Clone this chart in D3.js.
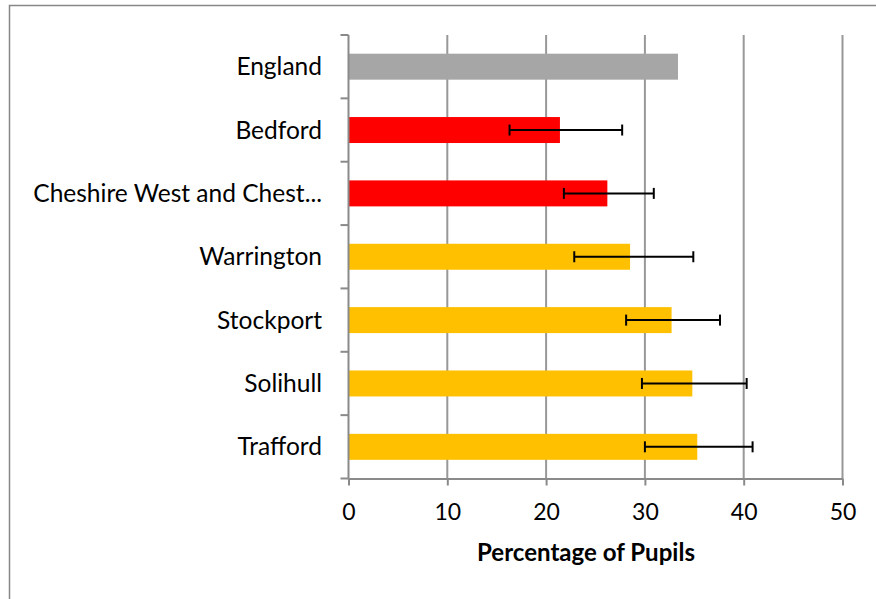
<!DOCTYPE html>
<html><head><meta charset="utf-8">
<script src="https://cdn.jsdelivr.net/npm/d3@7"></script>
<style>
body{margin:0;background:#fff;}
svg{display:block;}
text{font-family:Lato,"Open Sans",sans-serif;fill:#000;}
</style></head>
<body><svg id="chart" width="876" height="599"></svg>
<script>
const categories = ["England","Bedford","Cheshire West and Chest...","Warrington","Stockport","Solihull","Trafford"];
const values = [33.35, 21.4, 26.2, 28.5, 32.7, 34.8, 35.3];
const lowerCI = [null, 16.3, 21.8, 22.85, 28.1, 29.7, 30.0];
const upperCI = [null, 27.7, 30.9, 34.9, 37.6, 40.3, 40.9];
const barColors = ["#A6A6A6","#FF0000","#FF0000","#FFC000","#FFC000","#FFC000","#FFC000"];
const xTicks = [0,10,20,30,40,50];
const xTitle = "Percentage of Pupils";

(function(){
const svg = d3.select("#chart");
// outer frame
svg.append("path").attr("d","M9.5,599 V5.5 H876").attr("fill","none").attr("stroke","#878787").attr("stroke-width",1.5);

const pl = 348.5, pr = 842.5, pt = 35, pb = 478.5;
const x = d3.scaleLinear().domain([0,50]).range([pl,pr]);
const y = d3.scaleBand().domain(categories).range([pt,pb]).paddingInner(0.59).paddingOuter(0.295);
const yTicks = d3.scaleBand().domain(categories).range([pt,pb]);

// gridlines
svg.append("g").selectAll("line").data(xTicks.slice(1)).join("line")
  .attr("x1",d=>x(d)).attr("x2",d=>x(d)).attr("y1",pt).attr("y2",pb)
  .attr("stroke","#989898").attr("stroke-width",2);

// bars
svg.append("g").selectAll("rect").data(categories).join("rect")
  .attr("x",x(0)).attr("y",d=>y(d))
  .attr("width",(d,i)=>x(values[i])-x(0)).attr("height",y.bandwidth())
  .attr("fill",(d,i)=>barColors[i]);

// error bars
const eb = svg.append("g");
categories.forEach((c,i)=>{
  if(lowerCI[i]==null) return;
  const cy = y(c)+y.bandwidth()/2;
  eb.append("line").attr("x1",x(lowerCI[i])).attr("x2",x(upperCI[i])).attr("y1",cy).attr("y2",cy).attr("stroke","#000").attr("stroke-width",2);
  [lowerCI[i],upperCI[i]].forEach(v=>{
    eb.append("line").attr("x1",x(v)).attr("x2",x(v)).attr("y1",cy-5.5).attr("y2",cy+5.5).attr("stroke","#000").attr("stroke-width",2);
  });
});

// y axis line and ticks
const axisColor = "#8a8a8a";
svg.append("line").attr("x1",pl).attr("x2",pl).attr("y1",pt).attr("y2",pb).attr("stroke",axisColor).attr("stroke-width",2);
const bounds = categories.map(c=>yTicks(c)).concat([pb]);
svg.append("g").selectAll("line").data(bounds).join("line")
  .attr("x1",pl-8).attr("x2",pl).attr("y1",d=>d).attr("y2",d=>d).attr("stroke",axisColor).attr("stroke-width",2);

// x axis
const xAxis = d3.axisBottom(x).tickValues(xTicks).tickSize(7).tickPadding(18).tickSizeOuter(0);
const gx = svg.append("g").attr("transform",`translate(0,${pb})`).call(xAxis);
gx.select(".domain").attr("stroke",axisColor).attr("stroke-width",2);
gx.selectAll(".tick line").attr("stroke",axisColor).attr("stroke-width",2);
gx.selectAll(".tick text").attr("font-size",23).attr("font-family","Lato, 'Open Sans', sans-serif").attr("fill","#000");

// category labels
const labels = svg.append("g").selectAll("text").data(categories).join("text")
  .attr("x",322).attr("y",d=>y(d)+y.bandwidth()/2).attr("dy","0.35em")
  .attr("text-anchor","end").attr("font-size",22).text(d=>d);
let maxW = 0; labels.each(function(){maxW=Math.max(maxW,this.getComputedTextLength());});
labels.attr("font-size",22*289/maxW);

const title = svg.append("text").attr("x",586).attr("y",561).attr("text-anchor","middle")
  .attr("font-size",21).attr("font-weight","bold").text(xTitle);
const tw = title.node().getComputedTextLength();
title.attr("font-size",21*218/tw);
})();
</script></body></html>
